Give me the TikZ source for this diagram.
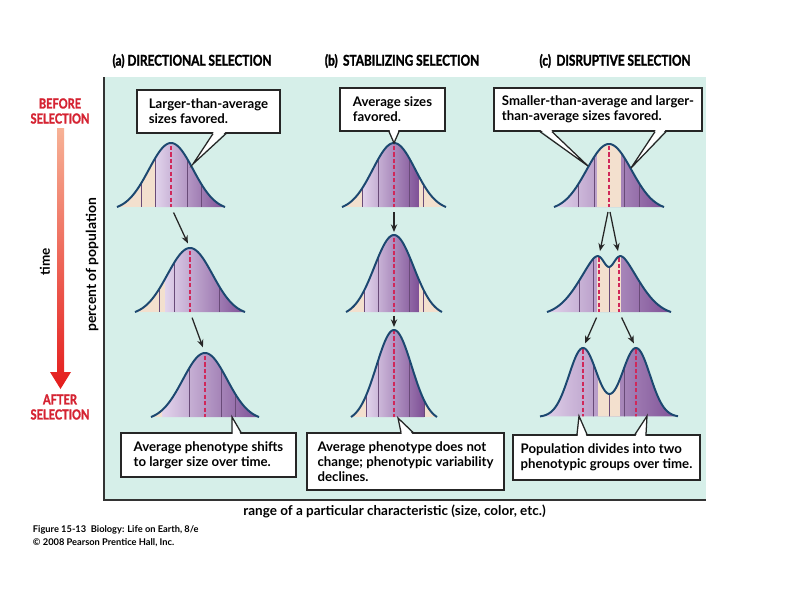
\documentclass[tikz,border=0pt]{standalone}
\usepackage{fontspec}
\setmainfont{Lato}
\newfontfamily\headfont[FakeStretch=0.8,FakeBold=1.6]{Lato}
\usetikzlibrary{positioning,arrows.meta,calc}
\definecolor{panel}{RGB}{214,239,233}
\definecolor{peach}{RGB}{243,224,206}
\definecolor{lilac}{RGB}{226,212,236}
\definecolor{plum}{RGB}{126,80,150}
\definecolor{curveblue}{RGB}{28,72,112}
\definecolor{selred}{RGB}{213,35,50}
\definecolor{meanred}{RGB}{208,40,90}
\definecolor{divline}{RGB}{105,75,120}
\definecolor{arrtop}{RGB}{247,178,150}
\definecolor{arrbot}{RGB}{228,28,28}

% one distribution: domain, height, baseline, shaded spans, peach spans, dividers, means
\newcommand\popcurve[7]{%
  \begin{scope}
    \clip plot[domain=#1,samples=90] (\x,{#3-(#2)}) -- cycle;
    \foreach \lo/\hi in {#4} \shade[left color=lilac,right color=plum] (\lo,#3-100) rectangle (\hi,#3);
    \foreach \lo/\hi in {#5} \fill[peach] (\lo,#3-100) rectangle (\hi,#3);
    \foreach \v in {#6} \draw[divider] (\v,#3-100) -- (\v,#3);
    \foreach \v in {#7} \draw[avgline] (\v,#3-100) -- (\v,#3);
  \end{scope}
  \draw[outline] plot[domain=#1,samples=90] (\x,{#3-(#2)});
}
% callout pointer: box side, base x1, base x2, tip, shift into the box
\newcommand\pointer[5]{%
  \fill[white] ($(#2,0 |- #1)+(0.7,#5)$) -- (#4) -- ($(#3,0 |- #1)+(-0.7,#5)$) -- cycle;
  \draw[black!85,line width=0.9pt] (#2,0 |- #1) -- (#4) -- (#3,0 |- #1);
}

\begin{document}
\begin{tikzpicture}[x=0.025cm,y=-0.025cm,
 declare function={bell(\x,\m,\w)=(exp(-0.5*((\x-\m)/(0.41*\w))*((\x-\m)/(0.41*\w)))-0.051)/0.949;
                   gs(\x,\m,\s)=exp(-0.5*((\x-\m)/\s)*((\x-\m)/\s));},
 outline/.style={draw=curveblue,line width=1.4pt,line join=round},
 divider/.style={draw=divline,line width=0.35pt},
 avgline/.style={draw=meanred,line width=1.1pt,dash pattern=on 3pt off 1.6pt},
 arr/.style={-{Stealth[length=5.5pt,width=4.5pt]},line width=0.9pt,draw=black!85},
 note/.style={draw=black!85,line width=0.9pt,fill=white,align=left,inner xsep=2pt,inner ysep=0pt,
   font=\bfseries\fontsize{9.4}{10.6}\selectfont},
 titletext/.style={font=\headfont\bfseries\fontsize{10.5}{12}\selectfont},
 seltext/.style={align=center,text=selred,font=\headfont\bfseries\fontsize{9.8}{10.7}\selectfont},
 axistext/.style={font=\bfseries\fontsize{9.6}{11}\selectfont}]
\fill[white] (0,0) rectangle (800,600);
\useasboundingbox (0,0) rectangle (800,600);

% panel
\fill[panel] (104,77) rectangle (706,500);
\draw[black!80,line width=1.4pt] (104,77) -- (104,500) -- (706,500);

% titles
\node[titletext] (ta) at (192,61) {(a) DIRECTIONAL SELECTION};
\node[titletext] (tb) at (402,61) {(b)\, STABILIZING SELECTION};
\node[titletext] (tc) at (615,61) {(c)\, DISRUPTIVE SELECTION};

% distributions
\popcurve{117:225}{64*bell(\x,171,54)}{207}{155/225}{117/155}{141,155,187,201}{171}
\popcurve{135:245}{64*bell(\x,190,55)}{312}{165/245}{135/165}{159,174,219}{190}
\popcurve{151:259}{64*bell(\x,205,54)}{417}{162/259}{151/162}{189,221,235}{205}
\popcurve{342:446}{64*bell(\x,394,52)}{207}{362/419}{342/362,419/446}{362,378,409,423}{394}
\popcurve{346:442}{77*bell(\x,394,48)}{312}{364/419}{346/364,419/442}{364,378,409,423}{394}
\popcurve{351:437}{87*bell(\x,394,43)}{417}{366/424}{351/366,424/437}{366,378,409,424}{394}
\popcurve{554:664}{63*bell(\x,609,55)}{207}{554/664}{597/621}{578,594,624,639}{609}
\popcurve{547:671}{66*bell(\x,609,62)-21*gs(\x,609,6)}{312}{547/671}{597/621}{579,593,609,639}{599,619}
\popcurve{540:678}{69*(gs(\x,583,14)+gs(\x,636,14))}{417}{540/678}{598/620}{593,609,624}{583,636}

% peaks and bases
\coordinate (a1base) at (171,207);
\coordinate (a2peak) at (190,248);
\coordinate (a2base) at (190,312);
\coordinate (a3peak) at (205,353);
\coordinate (b1base) at (394,207);
\coordinate (b2peak) at (394,235);
\coordinate (b2base) at (394,312);
\coordinate (b3peak) at (394,330);
\coordinate (c1base) at (609,207);
\coordinate (c2lpeak) at (599,256);
\coordinate (c2rpeak) at (619,256);
\coordinate (c2lbase) at (599,312);
\coordinate (c2rbase) at (619,312);
\coordinate (c3lpeak) at (583,348);
\coordinate (c3rpeak) at (636,348);

\draw[arr,shorten <=4.3pt,shorten >=3.6pt] (a1base) -- (a2peak);
\draw[arr,shorten <=4.3pt,shorten >=4.3pt] (a2base) -- (a3peak);
\draw[arr,shorten <=3.6pt,shorten >=2.1pt] (b1base) -- (b2peak);
\draw[arr,shorten <=2.8pt,shorten >=2.1pt] (b2base) -- (b3peak);
\draw[arr,shorten <=3.6pt,shorten >=3.6pt] (c1base) -- (c2lpeak);
\draw[arr,shorten <=3.6pt,shorten >=3.6pt] (c1base) -- (c2rpeak);
\draw[arr,shorten <=4.3pt,shorten >=3.6pt] (c2lbase) -- (c3lpeak);
\draw[arr,shorten <=4.3pt,shorten >=3.6pt] (c2rbase) -- (c3rpeak);

% callouts
\node[note,minimum width=3.575cm,minimum height=1.075cm] (na) at (208.5,111.5) {Larger-than-average\\sizes favored.};
\node[note,minimum width=2.625cm,minimum height=1.075cm] (nb) at (392.5,109.5) {Average sizes\\favored.};
\node[note,minimum width=5.2cm,minimum height=1.075cm] (nc) at (598,109.5) {Smaller-than-average and larger-\\than-average sizes favored.};
\node[note,minimum width=4.375cm,minimum height=1.1cm] (ra) at (208.5,455) {Average phenotype shifts\\to larger size over time.};
\node[note,minimum width=4.925cm,minimum height=1.425cm] (rb) at (405.5,461.5) {Average phenotype does not\\change; phenotypic variability\\declines.};
\node[note,minimum width=4.675cm,minimum height=1.125cm] (rc) at (606.5,457.5) {Population divides into two\\phenotypic groups over time.};

\coordinate (tipa) at (193,164);
\coordinate (tipb) at (394,143);
\coordinate (tipcl) at (588,166);
\coordinate (tipcr) at (631,168);
\coordinate (tipra) at (232,417);
\coordinate (tiprb) at (398,418);
\coordinate (tiprcl) at (579,416);
\coordinate (tiprcr) at (647,416);
\pointer{na.south}{213}{226}{tipa}{-1.5}
\pointer{nb.south}{389}{399}{tipb}{-1.5}
\pointer{nc.south}{540}{552}{tipcl}{-1.5}
\pointer{nc.south}{655}{666}{tipcr}{-1.5}
\pointer{ra.north}{232}{241}{tipra}{1.5}
\pointer{rb.north}{401}{413}{tiprb}{1.5}
\pointer{rc.north}{577}{587}{tiprcl}{1.5}
\pointer{rc.north}{635}{646}{tiprcr}{1.5}

% time axis
\node[seltext] (before) at (60,111) {BEFORE\\SELECTION};
\node[seltext] (after) at (60,407) {AFTER\\SELECTION};
\coordinate (ttop) at (60.5,128);
\coordinate (ttip) at (60.5,389);
\shade[top color=arrtop,bottom color=arrbot] ($(ttop)+(-3.5,0)$) -- ($(ttop)+(3.5,0)$) -- ($(ttip)+(3.5,-17)$)
  -- ($(ttip)+(10.5,-17)$) -- (ttip) -- ($(ttip)+(-10.5,-17)$) -- ($(ttip)+(-3.5,-17)$) -- cycle;
\node[axistext,rotate=90] (time) at (45,262) {time};
\node[axistext,font=\bfseries\fontsize{9.9}{11}\selectfont,rotate=90] (pct) at (92,265) {percent of population};
\node[axistext] (range) at (394.5,511) {range of a particular characteristic (size, color, etc.)};
\node[anchor=west,align=left,font=\bfseries\fontsize{6.6}{9.2}\selectfont] (fig) at (28,536.5)
  {Figure 15-13\enspace Biology: Life on Earth, 8/e\\\textcopyright{} 2008 Pearson Prentice Hall, Inc.};
\end{tikzpicture}
\end{document}
